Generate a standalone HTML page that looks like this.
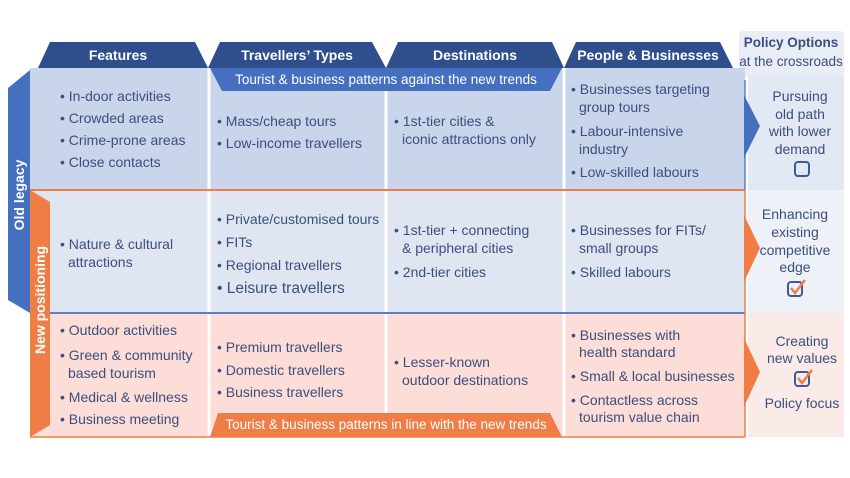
<!DOCTYPE html>
<html><head><meta charset="utf-8"><style>
html,body{margin:0;padding:0;background:#fff;width:850px;height:478px;overflow:hidden}
svg text{font-family:"Liberation Sans",Arial,sans-serif}
.t{font-size:14px;fill:#3b4f7e}
.h{font-size:14px;font-weight:bold;fill:#fff}
</style></head><body>
<svg width="850" height="478" viewBox="0 0 850 478" xmlns="http://www.w3.org/2000/svg">
<rect x="739" y="31" width="105" height="46" rx="4" fill="#e8edf6"/>
<rect x="748" y="76" width="96" height="114" fill="#e3e9f4"/>
<rect x="748" y="190" width="96" height="123" fill="#eef2f8"/>
<rect x="748" y="313" width="96" height="124" fill="#fbebe8"/>
<text class="t" x="791" y="47" text-anchor="middle" style="font-size:13.5px;font-weight:bold">Policy Options</text>
<text class="t" x="791" y="66" text-anchor="middle" style="font-size:13.5px">at the crossroads</text>

<rect x="30" y="68" width="715" height="122" fill="#c9d5ea"/>
<rect x="30" y="190" width="715" height="123" fill="#dfe6f2"/>
<rect x="30" y="313" width="715" height="124" fill="#fcddd7"/>
<g stroke="#fff" stroke-width="3">
<line x1="209" y1="68" x2="209" y2="437"/>
<line x1="386" y1="68" x2="386" y2="437"/>
<line x1="564" y1="68" x2="564" y2="437"/>
</g>
<line x1="30" y1="190" x2="745" y2="190" stroke="#f07d45" stroke-width="2"/>
<line x1="30" y1="313" x2="745" y2="313" stroke="#5a7fc6" stroke-width="2"/>
<line x1="745" y1="80" x2="745" y2="190" stroke="#5a7fc6" stroke-width="1.5"/>
<line x1="745" y1="190" x2="745" y2="313" stroke="#f07d45" stroke-width="1.5"/>
<line x1="745" y1="313" x2="745" y2="437" stroke="#f07d45" stroke-width="1.5"/>
<line x1="30" y1="437" x2="745" y2="437" stroke="#f07d45" stroke-width="1.5"/>
<polygon points="744,95 760,126 744,158" fill="#4470bf"/>
<polygon points="744,215 760,248 744,282" fill="#f07d45"/>
<polygon points="744,338 760,372 744,407" fill="#f07d45"/>

<polygon points="50,42 195,42 208,68 38,68" fill="#2f4e8c"/>
<polygon points="220,42 372,42 386,68 208,68" fill="#2f4e8c"/>
<polygon points="398,42 552,42 564,68 386,68" fill="#2f4e8c"/>
<polygon points="576,42 720,42 733,68 564,68" fill="#2f4e8c"/>
<text class="h" x="118" y="60" text-anchor="middle">Features</text>
<text class="h" x="297" y="60" text-anchor="middle">Travellers’ Types</text>
<text class="h" x="475" y="60" text-anchor="middle">Destinations</text>
<text class="h" x="648" y="60" text-anchor="middle">People &amp; Businesses</text>

<polygon points="210,68 562,68 550,91 222,91" fill="#4470bf"/>
<text x="386" y="84" text-anchor="middle" style="font-size:13.5px;fill:#fff">Tourist &amp; business patterns against the new trends</text>
<polygon points="218,413 550,413 562,437 210,437" fill="#f07d45"/>
<text x="386" y="429" text-anchor="middle" style="font-size:13.5px;fill:#fff">Tourist &amp; business patterns in line with the new trends</text>

<polygon points="8,88 30,70 30,313 8,300" fill="#4470bf"/>
<text class="h" transform="translate(24,195) rotate(-90)" text-anchor="middle">Old legacy</text>
<polygon points="30,190 50,202 50,425 30,437" fill="#f07d45"/>
<text class="h" transform="translate(45,300) rotate(-90)" text-anchor="middle">New positioning</text>

<g>
<text class="t" x="60" y="101">• In-door activities</text>
<text class="t" x="60" y="123">• Crowded areas</text>
<text class="t" x="60" y="145">• Crime-prone areas</text>
<text class="t" x="60" y="167">• Close contacts</text>
<text class="t" x="217" y="126">• Mass/cheap tours</text>
<text class="t" x="217" y="148">• Low-income travellers</text>
<text class="t" x="394" y="126">• 1st-tier cities &amp;</text>
<text class="t" x="402" y="144">iconic attractions only</text>
<text class="t" x="571" y="94">• Businesses targeting</text>
<text class="t" x="579" y="112">group tours</text>
<text class="t" x="571" y="136">• Labour-intensive</text>
<text class="t" x="579" y="154">industry</text>
<text class="t" x="571" y="177">• Low-skilled labours</text>
<text class="t" x="60" y="249">• Nature &amp; cultural</text>
<text class="t" x="68" y="267">attractions</text>
<text class="t" x="217" y="224">• Private/customised tours</text>
<text class="t" x="217" y="247">• FITs</text>
<text class="t" x="217" y="270">• Regional travellers</text>
<text class="t" x="217" y="293" style="font-size:15.5px">• Leisure travellers</text>
<text class="t" x="394" y="235">• 1st-tier + connecting</text>
<text class="t" x="402" y="253">&amp; peripheral cities</text>
<text class="t" x="394" y="277">• 2nd-tier cities</text>
<text class="t" x="571" y="235">• Businesses for FITs/</text>
<text class="t" x="579" y="253">small groups</text>
<text class="t" x="571" y="277">• Skilled labours</text>
<text class="t" x="60" y="335">• Outdoor activities</text>
<text class="t" x="60" y="360">• Green &amp; community</text>
<text class="t" x="68" y="378">based tourism</text>
<text class="t" x="60" y="402">• Medical &amp; wellness</text>
<text class="t" x="60" y="424">• Business meeting</text>
<text class="t" x="217" y="352">• Premium travellers</text>
<text class="t" x="217" y="375">• Domestic travellers</text>
<text class="t" x="217" y="397">• Business travellers</text>
<text class="t" x="394" y="367">• Lesser-known</text>
<text class="t" x="402" y="385">outdoor destinations</text>
<text class="t" x="571" y="340">• Businesses with</text>
<text class="t" x="579" y="357">health standard</text>
<text class="t" x="571" y="381">• Small &amp; local businesses</text>
<text class="t" x="571" y="405">• Contactless across</text>
<text class="t" x="579" y="422">tourism value chain</text>
</g>
<g text-anchor="middle">
<text class="t" x="800" y="101">Pursuing</text>
<text class="t" x="800" y="119">old path</text>
<text class="t" x="800" y="136">with lower</text>
<text class="t" x="800" y="154">demand</text>
<text class="t" x="795" y="219">Enhancing</text>
<text class="t" x="795" y="237">existing</text>
<text class="t" x="795" y="255">competitive</text>
<text class="t" x="795" y="272">edge</text>
<text class="t" x="802" y="346">Creating</text>
<text class="t" x="802" y="363">new values</text>
<text class="t" x="802" y="408">Policy focus</text>
</g>
<rect x="795" y="162" width="14" height="14" rx="3" fill="none" stroke="#3b5a9a" stroke-width="2"/>
<rect x="788" y="282" width="14" height="14" rx="3" fill="none" stroke="#3b5a9a" stroke-width="2"/>
<polyline points="791,288 795,293 805,280" fill="none" stroke="#f07d45" stroke-width="2.5"/>
<rect x="795" y="372" width="14" height="14" rx="3" fill="none" stroke="#3b5a9a" stroke-width="2"/>
<polyline points="798,378 802,383 812,370" fill="none" stroke="#f07d45" stroke-width="2.5"/>
</svg>
</body></html>
